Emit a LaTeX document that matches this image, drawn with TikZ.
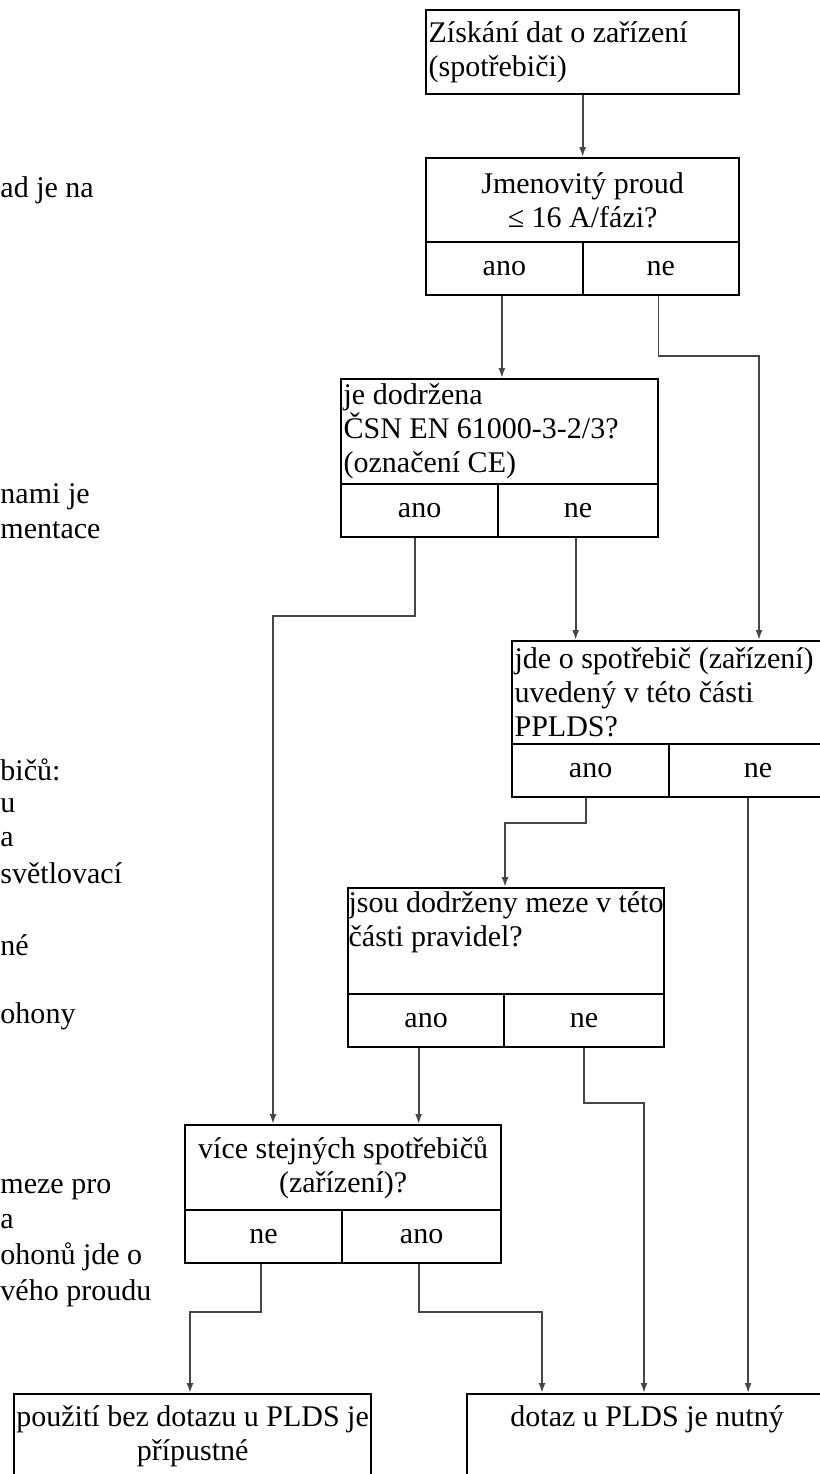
\documentclass[tikz,border=0pt]{standalone}
\usepackage{fontspec}
\setmainfont{Liberation Serif}
\usetikzlibrary{arrows.meta, positioning}
\definecolor{linegray}{RGB}{70, 70, 70}

\begin{document}
\begin{tikzpicture}[
    x=0.4pt, y=-0.4pt,
    font=\fontsize{12}{13.6}\selectfont,
    qbox/.style={
        rectangle,
        draw=black,
        line width=0.9pt,
        anchor=north west,
        inner xsep=1pt,
        inner ysep=0pt,
        align=left,
        execute at begin node={\spaceskip=0.25em\relax}
    },
    cellbox/.style={
        qbox,
        align=center,
        minimum height=21pt
    },
    endbox/.style={
        qbox,
        align=center,
        inner xsep=0pt,
        inner ysep=4.5pt,
        text depth=30pt
    },
    frag/.style={anchor=west, inner sep=0pt},
    arr/.style={-{Latex[length=4pt, width=2.8pt]}, line width=0.7pt, color=linegray}
]
    \useasboundingbox (0,0) rectangle (820,1474);
    \clip (0,0) rectangle (820,1474);

    % Text at the left edge
    \node[frag] (f1) at (0,190) {ad je na};
    \node[frag] (f2) at (0,497) {nami je};
    \node[frag] (f3) at (0,530) {mentace};
    \node[frag] (f4) at (0,770) {bičů:};
    \node[frag] (f5) at (0,806) {u};
    \node[frag] (f6) at (0,840) {a};
    \node[frag] (f7) at (0,873) {světlovací};
    \node[frag] (f8) at (0,945) {né};
    \node[frag] (f9) at (0,1016) {ohony};
    \node[frag] (f10) at (0,1190) {meze pro};
    \node[frag] (f11) at (0,1222) {a};
    \node[frag] (f12) at (0,1257) {ohonů jde o};
    \node[frag] (f13) at (0,1293) {vého proudu};

    % Boxes
    \node[qbox, minimum width=125.2pt, minimum height=33.6pt, text width=123.2pt] (start) at (425,9) {Získání dat o zařízení\\(spotřebiči)};

    \node[qbox, align=center, minimum width=125.2pt, minimum height=33.6pt, text width=123.2pt] (proud) at (425,157) {Jmenovitý proud\\≤ 16 A/fázi?};
    \node[cellbox, minimum width=62.6pt] (proudano) at (425,241) {ano};
    \node[cellbox, minimum width=62.6pt] (proudne) at (581.5,241) {ne};

    \node[qbox, minimum width=126.8pt, minimum height=42pt, text width=124.8pt] (norma) at (340,378) {je dodržena\\ČSN EN 61000-3-2/3?\\(označení CE)};
    \node[cellbox, minimum width=62.8pt] (normaano) at (340,483) {ano};
    \node[cellbox, minimum width=64pt] (normane) at (497,483) {ne};

    \node[qbox, minimum width=134pt, minimum height=41.2pt, text width=132pt] (seznam) at (511,640) {\mbox{jde o spotřebič (zařízení)}\\uvedený v této části\\PPLDS?};
    \node[cellbox, minimum width=62.8pt] (seznamano) at (511,743) {ano};
    \node[cellbox, minimum width=71.2pt] (seznamne) at (668,743) {ne};

    \node[qbox, inner xsep=0.2pt, minimum width=126.4pt, minimum height=42.4pt, text width=126pt] (meze) at (347,887) {\mbox{jsou dodrženy meze v této}\\části pravidel?\\\strut};
    \node[cellbox, minimum width=62.4pt] (mezeano) at (347,993) {ano};
    \node[cellbox, minimum width=64pt] (mezene) at (503,993) {ne};

    \node[qbox, align=center, minimum width=126.4pt, minimum height=34pt, text width=124.4pt] (vice) at (184,1124) {více stejných spotřebičů\\(zařízení)?};
    \node[cellbox, minimum width=62.8pt] (vicene) at (184,1209) {ne};
    \node[cellbox, minimum width=63.6pt] (viceano) at (341,1209) {ano};

    \node[endbox, text width=142.8pt] (bez) at (13,1393) {\mbox{použití bez dotazu u PLDS je}\\přípustné};
    \node[endbox, text width=144pt] (dotaz) at (466,1393) {dotaz u PLDS je nutný};

    % Bends
    \coordinate (b1) at (759,356);
    \coordinate (b2) at (273,616);
    \coordinate (b3) at (505,823);
    \coordinate (b4) at (644,1103);
    \coordinate (b5) at (190,1312);
    \coordinate (b6) at (542,1312);

    % Arrows
    \draw[arr] (start) -- (proud);
    \draw[arr] ([xshift=-1pt]proudano.south) coordinate (a1) -- (a1 |- norma.north);
    \draw[arr] ([xshift=-1pt]proudne.south) |- (b1) -- (b1 |- seznam.north);
    \draw[arr] ([xshift=-2pt]normaano.south) |- (b2) -- (b2 |- vice.north);
    \draw[arr] ([xshift=-1pt]normane.south) coordinate (a2) -- (a2 |- seznam.north);
    \draw[arr] ([xshift=-2pt]seznamano.south) |- (b3) -- (b3 |- meze.north);
    \draw[arr] ([xshift=-4pt]seznamne.south) coordinate (a3) -- (a3 |- dotaz.north);
    \draw[arr] ([xshift=-3pt]mezeano.south) coordinate (a4) -- (a4 |- vice.north);
    \draw[arr] (mezene.south) |- (b4) -- (b4 |- dotaz.north);
    \draw[arr] ([xshift=-1pt]vicene.south) |- (b5) -- (b5 |- bez.north);
    \draw[arr] ([xshift=-1pt]viceano.south) |- (b6) -- (b6 |- dotaz.north);
\end{tikzpicture}
\end{document}
